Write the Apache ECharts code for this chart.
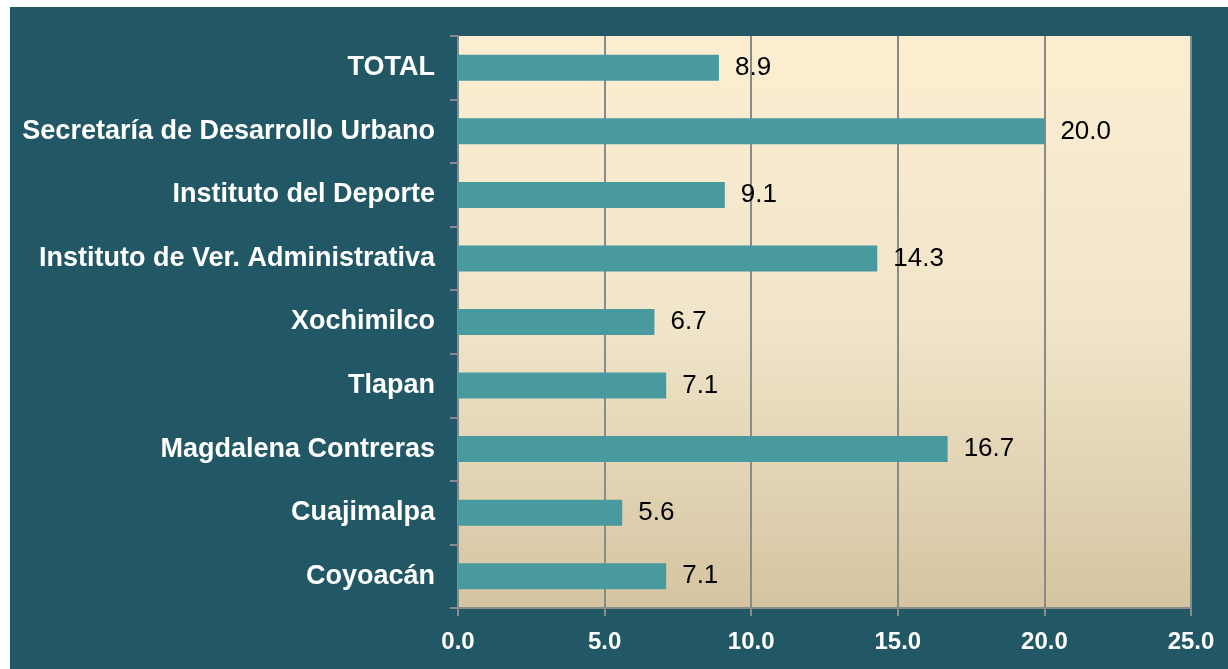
<!DOCTYPE html>
<html>
<head>
<meta charset="utf-8">
<script src="https://cdn.jsdelivr.net/npm/echarts@6/dist/echarts.min.js"></script>
<style>
  html, body { margin: 0; padding: 0; background: #ffffff; }
  #chart { position: absolute; left: 10px; top: 7px; width: 1218px; height: 662px; }
</style>
</head>
<body>
<div id="chart"></div>
<script>
  const categories = ["TOTAL", "Secretaría de Desarrollo Urbano", "Instituto del Deporte",
    "Instituto de Ver. Administrativa", "Xochimilco", "Tlapan", "Magdalena Contreras",
    "Cuajimalpa", "Coyoacán"];
  const values = [8.9, 20.0, 9.1, 14.3, 6.7, 7.1, 16.7, 5.6, 7.1];
  const xTicks = [0, 5, 10, 15, 20, 25];

  const chart = echarts.init(document.getElementById("chart"));
  chart.setOption({
    animation: false,
    backgroundColor: "#225866",
    grid: {
      left: 448, right: 37, top: 29, bottom: 61,
      show: true, borderWidth: 0,
      backgroundColor: new echarts.graphic.LinearGradient(0, 0, 0, 1, [
        { offset: 0, color: "#fdeed1" },
        { offset: 0.5, color: "#f0e5ca" },
        { offset: 1, color: "#d5c4a1" }
      ])
    },
    xAxis: {
      type: "value",
      min: xTicks[0], max: xTicks[xTicks.length - 1], interval: 5,
      axisLine: { show: true, lineStyle: { color: "#8a8a8a", width: 2 } },
      axisTick: { show: true, length: 8, lineStyle: { color: "#8a8a8a", width: 2 } },
      splitLine: { show: true, lineStyle: { color: "#8a8a8a", width: 2 } },
      axisLabel: {
        color: "#ffffff", fontFamily: "Arial, Liberation Sans", fontWeight: "bold",
        fontSize: 24, margin: 22, formatter: v => v.toFixed(1)
      }
    },
    yAxis: {
      type: "category", data: categories, inverse: true,
      axisLine: { show: true, lineStyle: { color: "#8a8a8a", width: 2 } },
      axisTick: { show: true, length: 8, alignWithLabel: false, lineStyle: { color: "#8a8a8a", width: 2 } },
      axisLabel: {
        color: "#ffffff", fontFamily: "Arial, Liberation Sans", fontWeight: "bold",
        fontSize: 27, margin: 23
      }
    },
    series: [{
      type: "bar", data: values, barWidth: 26,
      itemStyle: { color: "#489a9f" },
      label: {
        show: true, position: "right", distance: 16, color: "#000000",
        fontFamily: "Arial, Liberation Sans", fontSize: 26,
        formatter: p => p.value.toFixed(1)
      }
    }]
  });
</script>
</body>
</html>
